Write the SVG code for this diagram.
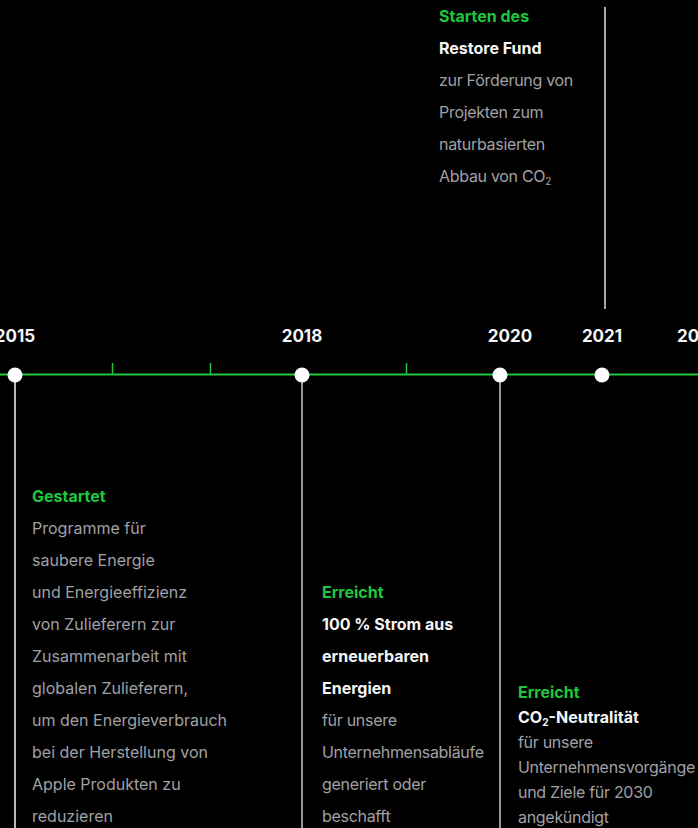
<svg xmlns="http://www.w3.org/2000/svg" width="698" height="828" viewBox="0 0 698 828">
<style>
text{font-family:Inter,"Noto Sans",sans-serif;font-size:16px}
.yr{font-weight:700;font-size:17px;fill:#f5f5f7;text-anchor:middle}
.g{fill:#1ec83c;font-weight:700}
.w{fill:#f5f5f7;font-weight:700}
.t{fill:#a1a1a6}
.n{letter-spacing:-0.3px}
.sub{font-size:10px}
</style>
<rect width="698" height="828" fill="#000"/>
<g id="connectors">
<line x1="0" y1="374.5" x2="698" y2="374.5" stroke="#1ec83c" stroke-width="2"/>
<g stroke="#1ec83c" stroke-width="1.5">
<line x1="112.5" y1="363" x2="112.5" y2="374"/>
<line x1="210.5" y1="363" x2="210.5" y2="374"/>
<line x1="406.5" y1="363" x2="406.5" y2="374"/>
</g>
<line x1="15" y1="375" x2="15" y2="828" stroke="#f5f5f7" stroke-width="1.5"/>
<line x1="302" y1="375" x2="302" y2="828" stroke="#c8c8cc" stroke-width="1.5"/>
<line x1="500" y1="375" x2="500" y2="828" stroke="#c8c8cc" stroke-width="1.5"/>
<line x1="605" y1="7" x2="605" y2="309" stroke="#e0e0e0" stroke-width="1.5"/>
</g>
<g id="years">
<text class="yr" x="15" y="342">2015</text>
<text class="yr" x="302" y="342">2018</text>
<text class="yr" x="510" y="342">2020</text>
<text class="yr" x="602" y="342">2021</text>
<text class="yr" x="677" y="342" style="text-anchor:start">20</text>
</g>
<g id="dots" fill="#fff">
<circle cx="15" cy="375" r="7.5"/>
<circle cx="302" cy="375" r="7.5"/>
<circle cx="500" cy="375" r="7.5"/>
<circle cx="602" cy="375" r="7.5"/>
</g>
<g id="node-2021">
<text class="g" x="439" y="22">Starten des</text>
<text class="w" x="439" y="54">Restore Fund</text>
<text class="t n" x="439" y="86">zur Förderung von</text>
<text class="t n" x="439" y="118">Projekten zum</text>
<text class="t n" x="439" y="150">naturbasierten</text>
<text class="t n" x="439" y="182">Abbau von CO<tspan class="sub" dy="3">2</tspan></text>
</g>
<g id="node-2015">
<text class="g" x="32" y="502">Gestartet</text>
<text class="t" x="32" y="534">Programme für</text>
<text class="t" x="32" y="566">saubere Energie</text>
<text class="t" x="32" y="598">und Energieeffizienz</text>
<text class="t" x="32" y="630">von Zulieferern zur</text>
<text class="t" x="32" y="662">Zusammenarbeit mit</text>
<text class="t" x="32" y="694">globalen Zulieferern,</text>
<text class="t" x="32" y="726">um den Energieverbrauch</text>
<text class="t" x="32" y="758">bei der Herstellung von</text>
<text class="t" x="32" y="790">Apple Produkten zu</text>
<text class="t" x="32" y="822">reduzieren</text>
</g>
<g id="node-2018">
<text class="g" x="322" y="598">Erreicht</text>
<text class="w" x="322" y="630">100 % Strom aus</text>
<text class="w" x="322" y="662">erneuerbaren</text>
<text class="w" x="322" y="694">Energien</text>
<text class="t n" x="322" y="726">für unsere</text>
<text class="t n" x="322" y="758">Unternehmensabläufe</text>
<text class="t n" x="322" y="790">generiert oder</text>
<text class="t n" x="322" y="822">beschafft</text>
</g>
<g id="node-2020">
<text class="g" x="518" y="698">Erreicht</text>
<text class="w" x="518" y="723">CO<tspan class="sub" dy="3">2</tspan><tspan dy="-3">-Neutralität</tspan></text>
<text class="t n" x="518" y="748">für unsere</text>
<text class="t n" x="518" y="773">Unternehmensvorgänge</text>
<text class="t n" x="518" y="798">und Ziele für 2030</text>
<text class="t n" x="518" y="823">angekündigt</text>
</g>
</svg>
